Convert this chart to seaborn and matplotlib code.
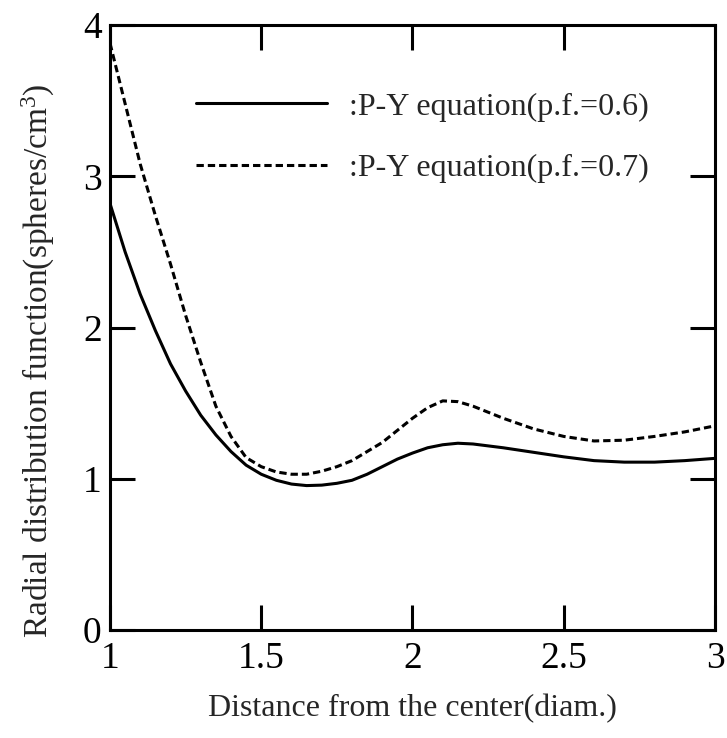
import numpy as np
import pandas as pd
import matplotlib
matplotlib.use("Agg")
import matplotlib.pyplot as plt
import seaborn as sns

# distance from the center (diam.)
distance = [1.0, 1.05, 1.1, 1.15, 1.2, 1.25, 1.3, 1.35, 1.4, 1.45, 1.5, 1.55,
            1.6, 1.65, 1.7, 1.75, 1.8, 1.85, 1.9, 1.95, 2.0, 2.05, 2.1, 2.15,
            2.2, 2.3, 2.4, 2.5, 2.6, 2.7, 2.8, 2.9, 3.0]
# P-Y equation, p.f.=0.6
g_06 = [2.82, 2.50, 2.22, 1.98, 1.76, 1.58, 1.42, 1.29, 1.18, 1.09, 1.03, 0.99,
        0.965, 0.955, 0.958, 0.97, 0.99, 1.03, 1.08, 1.13, 1.17, 1.205, 1.225, 1.235,
        1.23, 1.205, 1.175, 1.145, 1.12, 1.11, 1.11, 1.12, 1.135]
# P-Y equation, p.f.=0.7
g_07 = [3.88, 3.48, 3.08, 2.74, 2.42, 2.08, 1.77, 1.48, 1.28, 1.14, 1.08, 1.045,
        1.03, 1.03, 1.05, 1.08, 1.12, 1.18, 1.24, 1.32, 1.40, 1.47, 1.515, 1.51,
        1.48, 1.40, 1.33, 1.28, 1.25, 1.255, 1.28, 1.31, 1.35]

series_names = [":P-Y equation(p.f.=0.6)", ":P-Y equation(p.f.=0.7)"]
x_ticks = [1, 1.5, 2, 2.5, 3]
x_tick_labels = ["1", "1.5", "2", "2.5", "3"]
y_ticks = [0, 1, 2, 3, 4]
y_tick_labels = ["0", "1", "2", "3", "4"]

df = pd.DataFrame({
    "x": distance + distance,
    "y": g_06 + g_07,
    "series": [series_names[0]] * len(distance) + [series_names[1]] * len(distance),
})

sns.set_style("ticks")
plt.rcParams["font.family"] = ["Liberation Serif", "DejaVu Serif"]
plt.rcParams["mathtext.fontset"] = "custom"
plt.rcParams["mathtext.rm"] = "Liberation Serif"
plt.rcParams["mathtext.it"] = "Liberation Serif:italic"

fig = plt.figure(figsize=(7.27, 7.38), dpi=100)
ax = fig.add_axes([0.1513, 0.1463, 0.8322, 0.8198])

sns.lineplot(data=df, x="x", y="y", style="series", color="black",
             dashes={series_names[0]: "", series_names[1]: (2.4, 1.3)},
             linewidth=2.2, ax=ax)

ax.set_xlim(1, 3)
ax.set_ylim(0, 4)
ax.set_xticks(x_ticks)
ax.set_xticklabels(x_tick_labels)
ax.set_yticks(y_ticks)
ax.set_yticklabels(y_tick_labels)
ax.tick_params(direction="in", length=18, width=2.2, top=True, right=True,
               labelsize=27, colors="black")
ax.tick_params(axis="x", pad=8)
ax.tick_params(axis="y", pad=6)
for s in ax.spines.values():
    s.set_linewidth(2.2)
    s.set_color("black")

ax.set_xlabel("Distance from the center(diam.)", fontsize=23)
ax.set_ylabel(r"Radial distribution function(spheres/cm$^3$)", fontsize=24)
ax.xaxis.set_label_coords(0.5, -0.105)
ax.yaxis.set_label_coords(-0.087, 0.445)

ax.legend(loc="upper left", bbox_to_anchor=(0.142, 0.889), frameon=False,
          fontsize=23, handlelength=4.1, handletextpad=0.7, labelspacing=1.0,
          borderpad=0, borderaxespad=0)

fig.savefig("out.png", dpi=100)
